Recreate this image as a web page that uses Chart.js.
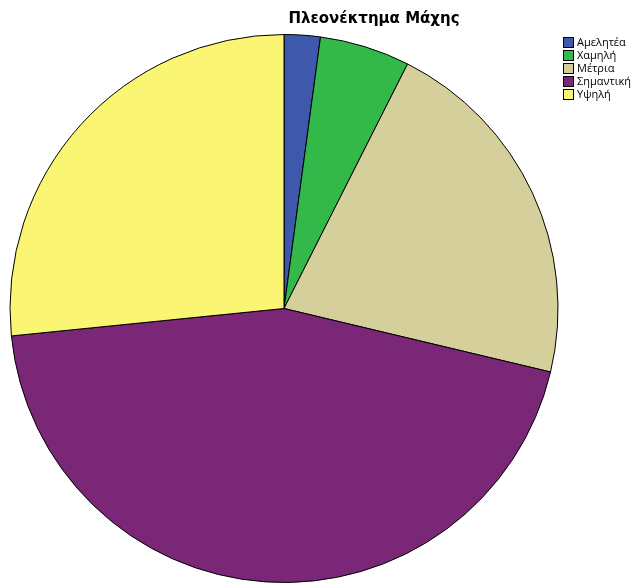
<!DOCTYPE html>
<html>
<head>
<meta charset="utf-8">
<script src="https://cdn.jsdelivr.net/npm/chart.js@4"></script>
<style>
  html, body { margin: 0; padding: 0; background: #fff; }
  #wrap { position: relative; width: 637px; height: 583px; }
</style>
</head>
<body>
<div id="wrap"><canvas id="pieChart" width="637" height="583"></canvas></div>
<script>
const chartTitle = 'Πλεονέκτημα Μάχης';
const categories = ['Αμελητέα', 'Χαμηλή', 'Μέτρια', 'Σημαντική', 'Υψηλή'];
const counts = [2, 5, 20, 42, 25];
const colors = ['#3e58ac', '#33b94a', '#d5cf9c', '#7b2777', '#fbf574'];

// title and the small boxed legend in the top right, drawn straight on the canvas
const overlay = {
  id: 'overlay',
  afterDraw(chart) {
    const ctx = chart.ctx;
    ctx.save();
    ctx.fillStyle = '#000';
    ctx.font = 'bold 15px "DejaVu Sans", sans-serif';
    ctx.textAlign = 'center';
    ctx.textBaseline = 'middle';
    ctx.fillText(chartTitle, 374, 19);

    ctx.font = '11px "Open Sans", "DejaVu Sans", sans-serif';
    ctx.textAlign = 'left';
    chart.data.labels.forEach((label, i) => {
      const y = 37 + i * 13;
      ctx.fillStyle = chart.data.datasets[0].backgroundColor[i];
      ctx.fillRect(563.5, y + 0.5, 10, 10);
      ctx.strokeStyle = '#000';
      ctx.lineWidth = 1;
      ctx.strokeRect(563.5, y + 0.5, 10, 10);
      ctx.fillStyle = '#000';
      ctx.fillText(label, 577, y + 6);
    });
    ctx.restore();
  }
};

new Chart(document.getElementById('pieChart'), {
  type: 'pie',
  data: {
    labels: categories,
    datasets: [{
      data: counts,
      backgroundColor: colors,
      borderColor: '#000',
      borderWidth: 1
    }]
  },
  options: {
    responsive: false,
    animation: false,
    layout: { padding: { left: 9, top: 34, right: 78, bottom: 0 } },
    plugins: {
      legend: { display: false },
      title: { display: false },
      tooltip: { enabled: false }
    }
  },
  plugins: [overlay]
});
</script>
</body>
</html>
